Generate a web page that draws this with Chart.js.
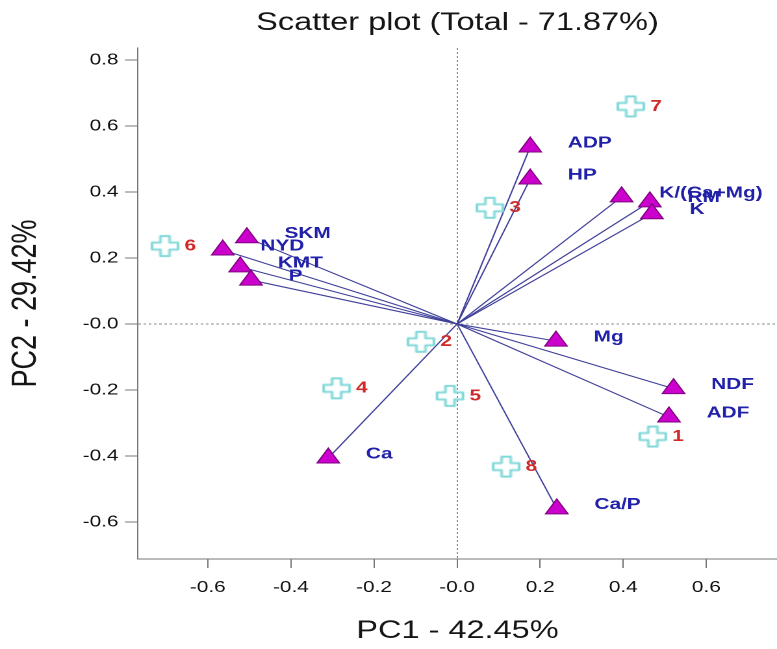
<!DOCTYPE html>
<html>
<head>
<meta charset="utf-8">
<script src="https://cdn.jsdelivr.net/npm/chart.js@4.4.1/dist/chart.umd.min.js"></script>
<style>
  html, body { margin: 0; padding: 0; background: #fff; overflow: hidden; }
  /* the original picture is stretched sideways, so the chart is drawn narrow and widened */
  #wrap { position: relative; width: 598px; height: 649px; transform: scaleX(1.2993); transform-origin: 0 0; }
</style>
</head>
<body>
<div id="wrap"><canvas id="pcaChart"></canvas></div>
<script>
// Variable loadings (triangles)
const varNames = ['ADP', 'HP', 'K/(Ca+Mg)', 'RM', 'K', 'SKM', 'NYD', 'KMT', 'P', 'Mg', 'NDF', 'ADF', 'Ca', 'Ca/P'];
const varPC1 = [0.176, 0.176, 0.396, 0.464, 0.469, -0.506, -0.564, -0.522, -0.496, 0.238, 0.521, 0.510, -0.310, 0.240];
const varPC2 = [0.536, 0.439, 0.385, 0.370, 0.334, 0.261, 0.224, 0.173, 0.133, -0.052, -0.196, -0.282, -0.406, -0.560];

// Sample scores (crosses)
const obsNames = ['1', '2', '3', '4', '5', '6', '7', '8'];
const obsPC1 = [0.471, -0.087, 0.079, -0.290, -0.017, -0.703, 0.418, 0.118];
const obsPC2 = [-0.341, -0.054, 0.352, -0.195, -0.218, 0.236, 0.659, -0.432];

const xTicks = [-0.6, -0.4, -0.2, 0, 0.2, 0.4, 0.6];
const yTicks = [-0.6, -0.4, -0.2, 0, 0.2, 0.4, 0.6, 0.8];

Chart.defaults.font.family = "'Liberation Sans', Arial, sans-serif";

function fmt(v) {
    return Math.abs(v) < 1e-9 ? '-0.0' : Number(v).toFixed(1);
}

// outlined plus sign used for the sample points
function makeCross(size, arm, color) {
    const c = document.createElement('canvas');
    c.width = size + 4;
    c.height = size + 4;
    const g = c.getContext('2d');
    const o = 2, m = o + size / 2, a = arm / 2, e = o + size;
    g.beginPath();
    g.moveTo(m - a, o); g.lineTo(m + a, o); g.lineTo(m + a, m - a); g.lineTo(e, m - a);
    g.lineTo(e, m + a); g.lineTo(m + a, m + a); g.lineTo(m + a, e); g.lineTo(m - a, e);
    g.lineTo(m - a, m + a); g.lineTo(o, m + a); g.lineTo(o, m - a); g.lineTo(m - a, m - a);
    g.closePath();
    g.lineJoin = 'round';
    g.lineWidth = 2;
    g.strokeStyle = color;
    g.stroke();
    return c;
}

const arrowSets = varNames.map((n, i) => ({
    label: 'arrow ' + n,
    data: [{ x: 0, y: 0 }, { x: varPC1[i], y: varPC2[i] }],
    showLine: true,
    borderColor: '#40409a',
    borderWidth: 1.1,
    pointRadius: 0,
    order: 3
}));

const obsSet = {
    label: 'samples',
    data: obsPC1.map((x, i) => ({ x: x, y: obsPC2[i] })),
    pointStyle: makeCross(20, 7, '#80d8d8'),
    pointRadius: 10,
    order: 2
};

const varSet = {
    label: 'variables',
    data: varPC1.map((x, i) => ({ x: x, y: varPC2[i] })),
    pointStyle: 'triangle',
    pointRadius: 10,
    backgroundColor: '#cc00cc',
    borderColor: '#7d007d',
    borderWidth: 1,
    order: 1
};

const pointLabels = {
    id: 'pointLabels',
    afterDatasetsDraw(chart) {
        const ctx = chart.ctx;
        const n = chart.data.datasets.length;
        ctx.save();
        ctx.textAlign = 'left';
        ctx.textBaseline = 'middle';
        ctx.font = "bold 16px 'Liberation Sans', Arial, sans-serif";

        ctx.fillStyle = '#2020a8';
        chart.getDatasetMeta(n - 1).data.forEach((pt, i) => {
            ctx.fillText(varNames[i], pt.x + 29, pt.y - 4);
        });

        ctx.fillStyle = '#cf2a2a';
        chart.getDatasetMeta(n - 2).data.forEach((pt, i) => {
            ctx.fillText(obsNames[i], pt.x + 15, pt.y);
        });
        ctx.restore();
    },
    afterDraw(chart) {
        const ctx = chart.ctx;
        const area = chart.chartArea;
        ctx.save();
        ctx.textAlign = 'center';
        ctx.textBaseline = 'middle';
        ctx.fillStyle = '#151515';
        ctx.font = "25px 'Liberation Sans', Arial, sans-serif";
        ctx.fillText('Scatter plot (Total - 71.87%)', (area.left + area.right) / 2, 23);
        ctx.restore();
    }
};

function zeroLine(c) {
    return c.tick && Math.abs(c.tick.value) < 1e-9 ? '#8a8a8a' : 'rgba(0,0,0,0)';
}

const ctx = document.getElementById('pcaChart').getContext('2d');
const pcaChart = new Chart(ctx, {
    type: 'scatter',
    data: { datasets: [...arrowSets, obsSet, varSet] },
    options: {
        responsive: true,
        maintainAspectRatio: false,
        devicePixelRatio: 2,
        animation: false,
        layout: { padding: { top: 48, left: 0, right: 0, bottom: 0 }, autoPadding: false },
        plugins: { legend: { display: false }, tooltip: { enabled: false } },
        scales: {
            x: {
                type: 'linear',
                min: -0.768,
                max: 0.77,
                afterBuildTicks: s => { s.ticks = xTicks.map(v => ({ value: v })); },
                afterFit: s => { s.height = 90; },
                grid: { color: zeroLine, tickColor: '#777', tickLength: 9, lineWidth: 1 },
                border: { display: true, color: '#777', width: 1, dash: [2, 2] },
                ticks: { color: '#111', font: { size: 16 }, padding: 10, maxRotation: 0, callback: fmt },
                title: { display: true, text: 'PC1 - 42.45%', color: '#151515', font: { size: 25 }, padding: { top: 0, bottom: 3 } }
            },
            y: {
                type: 'linear',
                min: -0.712,
                max: 0.836,
                afterBuildTicks: s => { s.ticks = yTicks.map(v => ({ value: v })); },
                afterFit: s => { s.width = 106.2; },
                grid: { color: zeroLine, tickColor: '#777', tickLength: 10, lineWidth: 1 },
                border: { display: true, color: '#777', width: 1, dash: [2, 2] },
                ticks: { color: '#111', font: { size: 16 }, padding: 5, callback: fmt },
                title: { display: true, text: 'PC2 - 29.42%', color: '#151515', font: { size: 27 }, padding: { top: 4, bottom: 0 } }
            }
        }
    },
    plugins: [pointLabels]
});
</script>
</body>
</html>
